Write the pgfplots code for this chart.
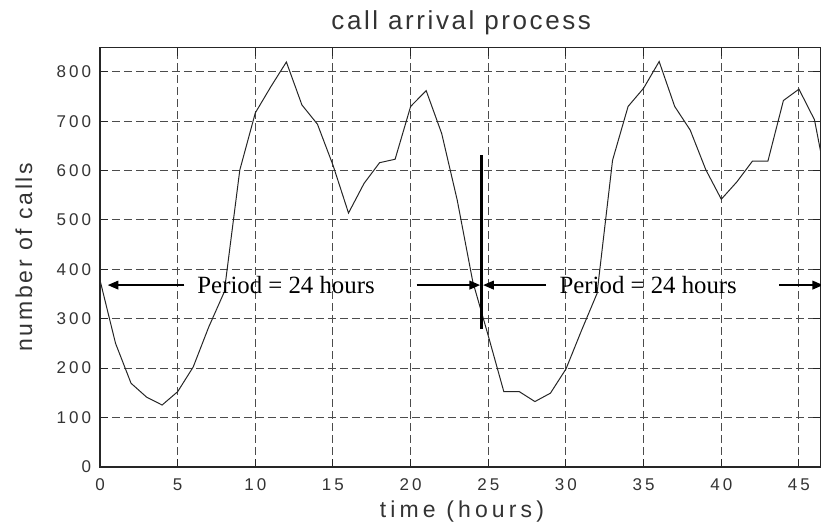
\documentclass[border=0pt]{standalone}
\usepackage{pgfplots}
\pgfplotsset{compat=1.18}
\usetikzlibrary{arrows.meta}
\usepackage{fontspec}
\setmainfont{Liberation Serif}
\newfontfamily\tickfont[LetterSpace=18]{Liberation Sans}
\newfontfamily\xlabfont[LetterSpace=18]{Liberation Sans}
\newfontfamily\ylabfont[LetterSpace=12]{Liberation Sans}
\newfontfamily\titfont[LetterSpace=10]{Liberation Sans}
\definecolor{txt}{HTML}{333333}
\pgfplotstableread{
t v
0 378
1 250
2 169
3 141
4 125
5 152
6 202
7 283
8 354
9 601
10 717
11 770
12 820
13 733
14 694
15 611
16 514
17 574
18 616
19 623
20 730
21 762
22 675
23 540
24 375
25 265
26 152
27 152
28 132
29 149
30 198
31 276
32 351
33 621
34 730
35 767
36 821
37 730
38 682
39 602
40 542
41 577
42 619
43 619
44 742
45 765
46 703
47 540
}\calls
\begin{document}
\begin{tikzpicture}
\begin{axis}[
  scale only axis,
  width=360.5pt, height=209.5pt,
  xmin=0, xmax=46.42, ymin=0, ymax=849,
  xtick={0,5,...,45}, ytick={0,100,...,800},
  grid=major,
  major grid style={dash pattern=on 4pt off 2pt, color=black!70, line width=0.5pt},
  axis line style={line width=0.8pt, black!85},
  tick style={black!85, line width=0.5pt},
  major tick length=4pt, tick align=inside,
  /pgf/number format/assume math mode=true,
  ticklabel style={font=\tickfont\fontsize{8.5pt}{10pt}\selectfont, text=txt},
  yticklabel style={anchor=east, inner sep=0pt, xshift=-4.2pt},
  xticklabel style={anchor=north, inner sep=0pt, yshift=-5.6pt},
  every axis title shift=0pt,
  title={call arrival process},
  title style={at={(axis description cs:0.501,1.0439)}, anchor=base,
    font=\titfont\fontsize{13pt}{15pt}\selectfont, text=txt},
  xlabel={time (hours)},
  xlabel style={at={(axis description cs:0.502,-0.1224)}, anchor=base,
    font=\xlabfont\fontsize{11.5pt}{14pt}\selectfont, text=txt},
  ylabel={number of calls},
  ylabel style={at={(axis description cs:-0.0943,0.5)}, anchor=base, rotate=0,
    font=\ylabfont\fontsize{11.5pt}{14pt}\selectfont, text=txt},
]
\addplot[black!85, line width=0.5pt, mark=none] table[x=t, y=v] {\calls};
\draw[line width=1.35pt, black] (axis cs:24.57,280) -- (axis cs:24.57,631);
\draw[line width=0.6pt, -{Triangle[length=5.3pt,width=4.4pt]}] (axis cs:5.43,368) -- (axis cs:0.5,368);
\draw[line width=0.6pt, -{Triangle[length=5.3pt,width=4.4pt]}] (axis cs:20.39,368) -- (axis cs:24.47,368);
\draw[line width=0.6pt, -{Triangle[length=5.3pt,width=4.4pt]}] (axis cs:28.72,368) -- (axis cs:24.67,368);
\draw[line width=0.6pt, -{Triangle[length=5.3pt,width=4.4pt]}] (axis cs:43.74,368) -- (axis cs:46.55,368);
\node[font=\fontsize{12.4pt}{14pt}\selectfont, anchor=center, inner sep=0pt] at (axis cs:11.98,368) {Period = 24 hours};
\node[font=\fontsize{12.4pt}{14pt}\selectfont, anchor=center, inner sep=0pt] at (axis cs:35.3,368) {Period = 24 hours};
\end{axis}
\pgfresetboundingbox
\path[use as bounding box] ([xshift=-50pt,yshift=-30.15pt]current axis.south west) rectangle ([yshift=23.85pt]current axis.north east);
\end{tikzpicture}
\end{document}
